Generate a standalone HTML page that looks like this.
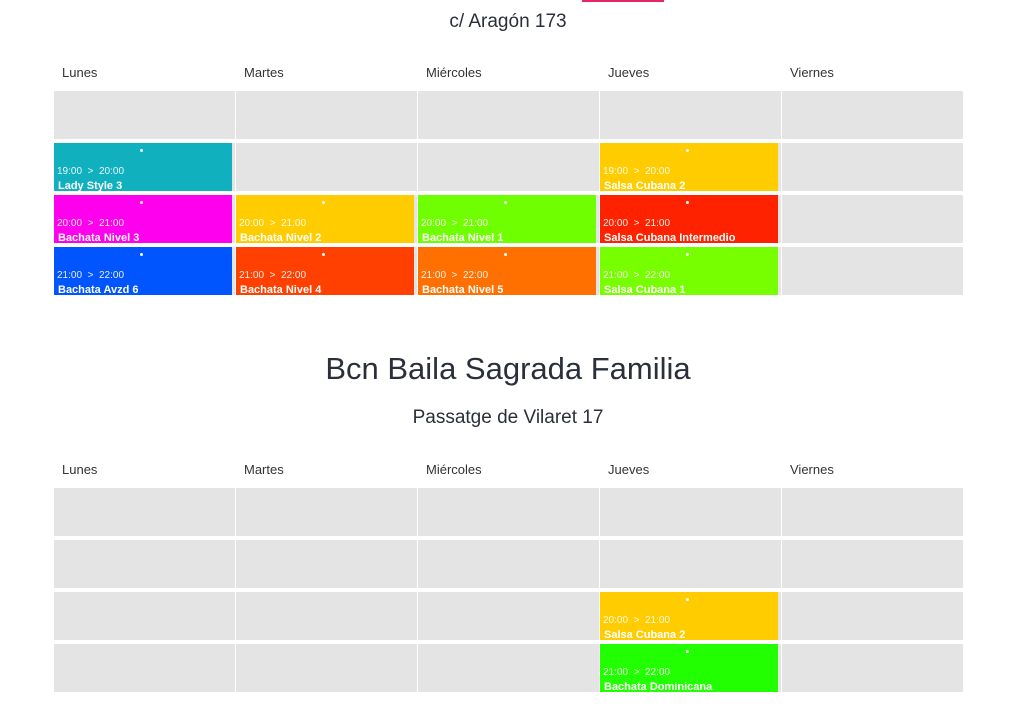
<!DOCTYPE html>
<html><head><meta charset="utf-8"><style>
body{margin:0;width:1024px;height:714px;position:relative;background:#fff;font-family:"Liberation Sans",sans-serif;overflow:hidden}
.a{position:absolute}
.h{position:absolute;font-size:13px;color:#333}
.c{position:absolute;width:181px;height:48px;background:#e4e4e4}
.e{position:absolute;width:178px;height:48px;color:#fff}
.e .d{position:absolute;left:86px;top:6px;width:3px;height:3px;border-radius:50%;background:#fff}
.e .t{position:absolute;left:3px;top:23px;font-size:10px;opacity:.9}
.e .n{position:absolute;left:4px;top:37px;font-size:11px;font-weight:bold}
.title{position:absolute;width:1024px;left:-4px;text-align:center;color:#2a2f3a}
</style></head><body>
<div class="a" style="left:582px;top:0;width:82px;height:2px;background:#e8246b"></div>
<div class="title" style="top:11px;font-size:19px">c/ Aragón 173</div>

<div class="h" style="left:62px;top:65px">Lunes</div>
<div class="h" style="left:244px;top:65px">Martes</div>
<div class="h" style="left:426px;top:65px">Miércoles</div>
<div class="h" style="left:608px;top:65px">Jueves</div>
<div class="h" style="left:790px;top:65px">Viernes</div>

<div class="c" style="left:54px;top:91px"></div><div class="c" style="left:236px;top:91px"></div><div class="c" style="left:418px;top:91px"></div><div class="c" style="left:600px;top:91px"></div><div class="c" style="left:782px;top:91px"></div>
<div class="c" style="left:54px;top:143px"></div><div class="c" style="left:236px;top:143px"></div><div class="c" style="left:418px;top:143px"></div><div class="c" style="left:600px;top:143px"></div><div class="c" style="left:782px;top:143px"></div>
<div class="c" style="left:54px;top:195px"></div><div class="c" style="left:236px;top:195px"></div><div class="c" style="left:418px;top:195px"></div><div class="c" style="left:600px;top:195px"></div><div class="c" style="left:782px;top:195px"></div>
<div class="c" style="left:54px;top:247px"></div><div class="c" style="left:236px;top:247px"></div><div class="c" style="left:418px;top:247px"></div><div class="c" style="left:600px;top:247px"></div><div class="c" style="left:782px;top:247px"></div>

<div class="e" style="left:54px;top:143px;background:#10b0bf"><div class="d"></div><div class="t">19:00 &nbsp;&gt;&nbsp; 20:00</div><div class="n">Lady Style 3</div></div>
<div class="e" style="left:600px;top:143px;background:#ffcc00"><div class="d"></div><div class="t">19:00 &nbsp;&gt;&nbsp; 20:00</div><div class="n">Salsa Cubana 2</div></div>

<div class="e" style="left:54px;top:195px;background:#ff00ee"><div class="d"></div><div class="t">20:00 &nbsp;&gt;&nbsp; 21:00</div><div class="n">Bachata Nivel 3</div></div>
<div class="e" style="left:236px;top:195px;background:#ffcc00"><div class="d"></div><div class="t">20:00 &nbsp;&gt;&nbsp; 21:00</div><div class="n">Bachata Nivel 2</div></div>
<div class="e" style="left:418px;top:195px;background:#70ff00"><div class="d"></div><div class="t">20:00 &nbsp;&gt;&nbsp; 21:00</div><div class="n">Bachata Nivel 1</div></div>
<div class="e" style="left:600px;top:195px;background:#ff2200"><div class="d"></div><div class="t">20:00 &nbsp;&gt;&nbsp; 21:00</div><div class="n">Salsa Cubana Intermedio</div></div>

<div class="e" style="left:54px;top:247px;background:#0055ff"><div class="d"></div><div class="t">21:00 &nbsp;&gt;&nbsp; 22:00</div><div class="n">Bachata Avzd 6</div></div>
<div class="e" style="left:236px;top:247px;background:#ff4000"><div class="d"></div><div class="t">21:00 &nbsp;&gt;&nbsp; 22:00</div><div class="n">Bachata Nivel 4</div></div>
<div class="e" style="left:418px;top:247px;background:#ff7000"><div class="d"></div><div class="t">21:00 &nbsp;&gt;&nbsp; 22:00</div><div class="n">Bachata Nivel 5</div></div>
<div class="e" style="left:600px;top:247px;background:#77ff00"><div class="d"></div><div class="t">21:00 &nbsp;&gt;&nbsp; 22:00</div><div class="n">Salsa Cubana 1</div></div>

<div class="title" style="top:351px;font-size:31px">Bcn Baila Sagrada Familia</div>
<div class="title" style="top:407px;font-size:19px">Passatge de Vilaret 17</div>

<div class="h" style="left:62px;top:462px">Lunes</div>
<div class="h" style="left:244px;top:462px">Martes</div>
<div class="h" style="left:426px;top:462px">Miércoles</div>
<div class="h" style="left:608px;top:462px">Jueves</div>
<div class="h" style="left:790px;top:462px">Viernes</div>

<div class="c" style="left:54px;top:488px"></div><div class="c" style="left:236px;top:488px"></div><div class="c" style="left:418px;top:488px"></div><div class="c" style="left:600px;top:488px"></div><div class="c" style="left:782px;top:488px"></div>
<div class="c" style="left:54px;top:540px"></div><div class="c" style="left:236px;top:540px"></div><div class="c" style="left:418px;top:540px"></div><div class="c" style="left:600px;top:540px"></div><div class="c" style="left:782px;top:540px"></div>
<div class="c" style="left:54px;top:592px"></div><div class="c" style="left:236px;top:592px"></div><div class="c" style="left:418px;top:592px"></div><div class="c" style="left:600px;top:592px"></div><div class="c" style="left:782px;top:592px"></div>
<div class="c" style="left:54px;top:644px"></div><div class="c" style="left:236px;top:644px"></div><div class="c" style="left:418px;top:644px"></div><div class="c" style="left:600px;top:644px"></div><div class="c" style="left:782px;top:644px"></div>

<div class="e" style="left:600px;top:592px;background:#ffcc00"><div class="d"></div><div class="t">20:00 &nbsp;&gt;&nbsp; 21:00</div><div class="n">Salsa Cubana 2</div></div>
<div class="e" style="left:600px;top:644px;background:#22ff00"><div class="d"></div><div class="t">21:00 &nbsp;&gt;&nbsp; 22:00</div><div class="n">Bachata Dominicana</div></div>
</body></html>
